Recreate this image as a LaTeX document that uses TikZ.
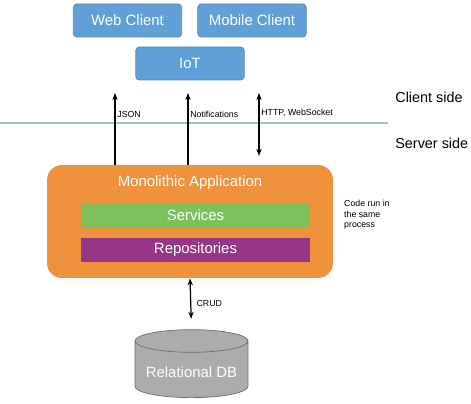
\documentclass[tikz,border=0pt]{standalone}
\usepackage{fontspec}
\setmainfont{Liberation Sans}
\usepackage{tikz}
\usetikzlibrary{shapes.geometric,arrows.meta}

\definecolor{clientblue}{RGB}{96,160,216}
\definecolor{monoorange}{RGB}{240,146,60}
\definecolor{servgreen}{RGB}{124,192,92}
\definecolor{repopurple}{RGB}{150,54,134}
\definecolor{dbgray}{RGB}{172,172,172}
\definecolor{sideline}{RGB}{160,192,216}

\tikzset{
  bigtext/.style={font=\fontsize{8.5}{10}\selectfont},
  smalltext/.style={font=\fontsize{5}{6}\selectfont},
  client/.style={bigtext,text=white,fill=clientblue,draw=clientblue!85!black,
    rounded corners=2pt,minimum width=2.17cm,minimum height=0.66cm,inner sep=0pt},
  layer/.style={bigtext,text=white,minimum width=4.58cm,minimum height=0.49cm,inner sep=0pt},
  flow/.style={-{Stealth[length=4pt,width=3pt]},line width=0.7pt},
  biflow/.style={{Stealth[length=4pt,width=3pt]}-{Stealth[length=4pt,width=3pt]},line width=0.7pt},
}

\begin{document}
\begin{tikzpicture}[x=0.02cm,y=-0.02cm]
      \useasboundingbox (0,0) rectangle (471,404);
      %% Clients
      \node[client] (web) at (127.5,20.5) {Web Client};
      \node[client] (mobile) at (252,20.5) {Mobile Client};
      \node[client] (iot) at (190,63.5) {IoT};
      %% Client / server split
      \coordinate (lineleft) at (0,123);
      \coordinate (lineright) at (388,123);
      \draw[sideline,line width=0.6pt] (lineleft) -- (lineright);
      \node[bigtext,anchor=west,inner sep=0pt,font=\fontsize{8.2}{10}\selectfont] (client side) at (395,97) {Client side};
      \node[bigtext,anchor=west,inner sep=0pt,font=\fontsize{8.2}{10}\selectfont] (server side) at (395,143) {Server side};
      %% Monolith
      \node[fill=monoorange,rounded corners=0.3cm,minimum width=5.72cm,minimum height=2.26cm] (mono) at (190,221.5) {};
      \node[bigtext,text=white] (monotitle) at (190,183) {Monolithic Application};
      \node[layer,fill=servgreen] (services) at (195.5,215.5) {Services};
      \node[layer,fill=repopurple] (repos) at (195.5,250) {Repositories};
      \node[smalltext,anchor=west,align=left] (process) at (338,215) {Code run in\\the same\\process};
      %% Protocol arrows
      \coordinate (jsontop) at (115,93);
      \coordinate (notiftop) at (188,93);
      \coordinate (httptop) at (259,93);
      \coordinate (httpbottom) at (259,156);
      \draw[flow] (jsontop |- mono.north) -- node[smalltext,pos=0.7,right,inner sep=1pt] {JSON} (jsontop);
      \draw[flow] (notiftop |- mono.north) -- node[smalltext,pos=0.7,right,inner sep=1pt] {Notifications} (notiftop);
      \draw[biflow] (httpbottom) -- node[smalltext,pos=0.68,right,inner sep=1pt] {HTTP, WebSocket} (httptop);
      %% Database
      \node[shape=cylinder,shape border rotate=90,aspect=0.22,draw=gray!85!black,fill=dbgray,
        minimum width=2.26cm,minimum height=1.36cm,bigtext,text=white] (db) at (191.5,372) {Relational DB};
      \draw[biflow,shorten >=6pt] (mono.south) -- node[smalltext,right,inner sep=3pt] {CRUD} (db.north);
    \end{tikzpicture}
\end{document}
